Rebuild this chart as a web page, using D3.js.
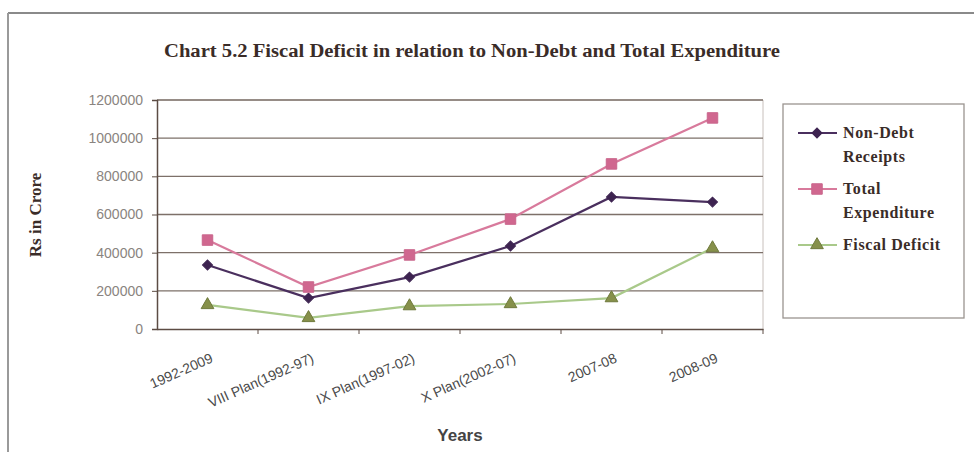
<!DOCTYPE html>
<html><head><meta charset="utf-8">
<script src="https://cdn.jsdelivr.net/npm/d3@7"></script>
<style>body{margin:0;background:#fff}svg{display:block}</style>
</head><body>
<svg id="c" width="974" height="452"></svg>
<script>
const categories = ["1992-2009","VIII Plan(1992-97)","IX Plan(1997-02)","X Plan(2002-07)","2007-08","2008-09"];
const nonDebtReceipts = [335000, 162000, 272000, 435000, 692000, 665000];
const totalExpenditure = [466000, 220000, 388000, 576000, 865000, 1106000];
const fiscalDeficit = [126000, 58000, 120000, 131000, 162000, 424000];
const yTicks = [0,200000,400000,600000,800000,1000000,1200000];
const seriesNames = ["Non-Debt Receipts","Total Expenditure","Fiscal Deficit"];

const series = [
  {name:seriesNames[0], lines:["Non-Debt","Receipts"], values:nonDebtReceipts, line:"#4a2f5e", fill:"#3d2350", stroke:"#3d2350", shape:d3.symbolSquare, size:50, rot:45},
  {name:seriesNames[1], lines:["Total","Expenditure"], values:totalExpenditure, line:"#d87a9c", fill:"#d0678f", stroke:"#c9668c", shape:d3.symbolSquare, size:110, rot:0},
  {name:seriesNames[2], lines:["Fiscal Deficit"], values:fiscalDeficit, line:"#a9c98a", fill:"#86904a", stroke:"#6f7a3c", shape:d3.symbolTriangle, size:70, rot:0}
];

const svg = d3.select("#c");
const L=157, R=763, T=100, B=329;

// outer frame
svg.append("line").attr("x1",8).attr("x2",974).attr("y1",13).attr("y2",13).attr("stroke","#8a8a8a").attr("stroke-width",2);
svg.append("line").attr("x1",8).attr("x2",8).attr("y1",13).attr("y2",452).attr("stroke","#9a9a9a").attr("stroke-width",2);

// title
svg.append("text").attr("x",164).attr("y",57).attr("font-family","Liberation Serif, serif").attr("font-weight","bold")
  .attr("font-size",18).attr("fill","#3a2c28").attr("textLength",616).attr("lengthAdjust","spacingAndGlyphs")
  .text("Chart 5.2 Fiscal Deficit in relation to Non-Debt and Total Expenditure");

const x = d3.scaleBand().domain(categories).range([L,R]);
const y = d3.scaleLinear().domain([0,1200000]).range([B,T]);

// plot border (top and right)
svg.append("line").attr("x1",L).attr("x2",R).attr("y1",T).attr("y2",T).attr("stroke","#c8c0bc");
svg.append("line").attr("x1",R).attr("x2",R).attr("y1",T).attr("y2",B).attr("stroke","#c8c0bc");

// gridlines
svg.append("g").selectAll("line").data(yTicks.filter(d=>d>0)).join("line")
  .attr("x1",L).attr("x2",R).attr("y1",d=>y(d)).attr("y2",d=>y(d))
  .attr("stroke","#7d7069").attr("stroke-width",1.3);

// y axis
const yAxis = svg.append("g").attr("transform",`translate(${L},0)`)
  .call(d3.axisLeft(y).tickValues(yTicks).tickFormat(d3.format("d")).tickSize(5).tickPadding(9));
yAxis.select(".domain").attr("stroke","#5c4c44").attr("stroke-width",1.5);
yAxis.selectAll(".tick line").attr("stroke","#5c4c44");
yAxis.selectAll("text").attr("font-family","Liberation Sans, Arial, sans-serif").attr("font-size",14).attr("fill","#8a8480");

// x axis
const xAxis = svg.append("g").attr("transform",`translate(0,${B})`)
  .call(d3.axisBottom(x).tickSize(0).tickFormat(""));
xAxis.select(".domain").attr("stroke","#5c4c44").attr("stroke-width",1.5);
svg.append("g").selectAll("line").data(categories.slice(1).concat([null])).join("line")
  .attr("x1",(d,i)=>d?x(d):R).attr("x2",(d,i)=>d?x(d):R).attr("y1",B).attr("y2",B+5).attr("stroke","#5c4c44");

// x labels
svg.append("g").selectAll("text").data(categories).join("text")
  .attr("transform",d=>`translate(${x(d)+x.bandwidth()/2+2},${B+23}) rotate(-24)`)
  .attr("text-anchor","end").attr("dy","0.75em")
  .attr("font-family","Liberation Sans, Arial, sans-serif").attr("font-size",14).attr("fill","#4a4a4a")
  .text(d=>d);

// axis titles
svg.append("text").attr("x",460).attr("y",441).attr("text-anchor","middle")
  .attr("font-family","Liberation Sans, Arial, sans-serif").attr("font-weight","bold").attr("font-size",17).attr("fill","#444")
  .text("Years");
svg.append("text").attr("transform","translate(41,215) rotate(-90)").attr("text-anchor","middle")
  .attr("font-family","Liberation Serif, serif").attr("font-weight","bold").attr("font-size",17).attr("fill","#3a2c28")
  .text("Rs in Crore");

// lines and markers
const cx = d=>x(d)+x.bandwidth()/2;
series.forEach(s=>{
  const pts = categories.map((c,i)=>[cx(c), y(s.values[i])]);
  svg.append("path").attr("d",d3.line()(pts)).attr("fill","none").attr("stroke",s.line).attr("stroke-width",2.2);
  svg.append("g").selectAll("path").data(pts).join("path")
    .attr("transform",p=>`translate(${p[0]},${p[1]}) rotate(${s.rot})`)
    .attr("d",d3.symbol(s.shape,s.size)).attr("fill",s.fill).attr("stroke",s.stroke).attr("stroke-width",1);
});

// legend
const lg = svg.append("g");
lg.append("rect").attr("x",783).attr("y",104).attr("width",181).attr("height",214).attr("fill","none").attr("stroke","#9a9490").attr("stroke-width",1.3);
const ly = [133,189,245];
series.forEach((s,i)=>{
  lg.append("line").attr("x1",798).attr("x2",837).attr("y1",ly[i]).attr("y2",ly[i]).attr("stroke",s.line).attr("stroke-width",2.2);
  lg.append("path").attr("transform",`translate(817,${ly[i]}) rotate(${s.rot})`).attr("d",d3.symbol(s.shape,s.size)).attr("fill",s.fill).attr("stroke",s.stroke);
  s.lines.forEach((t,j)=>{
    lg.append("text").attr("x",843).attr("y",ly[i]+5+j*24)
      .attr("font-family","Liberation Serif, serif").attr("font-weight","bold").attr("font-size",16)
      .attr("letter-spacing",0.6).attr("fill","#3a2c28").text(t);
  });
});
</script>
</body></html>
